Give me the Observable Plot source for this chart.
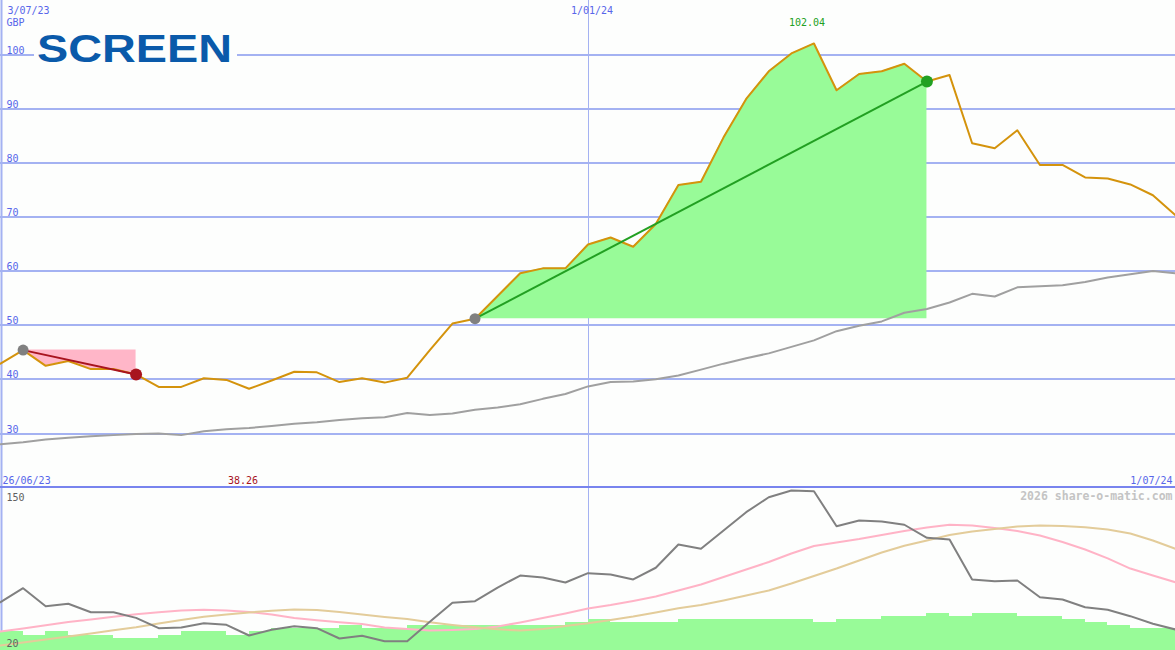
<!DOCTYPE html>
<html>
<head>
<meta charset="utf-8">
<script src="https://cdn.jsdelivr.net/npm/d3@7"></script>
<script src="https://cdn.jsdelivr.net/npm/@observablehq/plot@0.6"></script>
<style>
  html, body { margin: 0; padding: 0; background: #fdfefd; }
  #chart svg { display: block; }
  #bottom svg { border-top: 2px solid #7884ee; }
</style>
</head>
<body>
<div id="chart"><div id="top"></div><div id="bottom"></div></div>
<script>
// ---------- data (weekly, starting Monday 3 Jul 2023) ----------
const startDay = "2023-07-03";
const price = [42.9, 45.4, 42.5, 43.4, 41.9, 41.9, 40.9, 38.6, 38.6, 40.2,
  39.9, 38.26, 39.8, 41.4, 41.3, 39.5, 40.2, 39.4, 40.3, 45.4,
  50.3, 51.2, 55.4, 59.6, 60.5, 60.5, 64.9, 66.2, 64.5, 68.7,
  75.9, 76.5, 84.7, 91.8, 96.9, 100.2, 102.04, 93.4, 96.4, 96.9,
  98.3, 95.0, 96.2, 83.6, 82.7, 86.0, 79.6, 79.6, 77.3, 77.1,
  76.0, 74.0, 70.3];
const movingAvg = [28.0, 28.4, 28.9, 29.2, 29.5, 29.7, 29.9, 30.0, 29.7, 30.4,
  30.8, 31.0, 31.4, 31.8, 32.1, 32.5, 32.8, 33.0, 33.8, 33.4,
  33.7, 34.4, 34.8, 35.4, 36.4, 37.3, 38.7, 39.5, 39.6, 40.0,
  40.7, 41.8, 42.9, 43.9, 44.8, 46.0, 47.2, 48.9, 49.9, 50.7,
  52.3, 53.0, 54.2, 55.8, 55.3, 57.0, 57.2, 57.4, 58.0, 58.8,
  59.4, 60.0, 59.6];
const oscillator = [60.3, 72.8, 56.8, 58.9, 51.4, 51.4, 46.4, 37.2, 37.8, 41.6,
  40.2, 30.7, 35.8, 39.0, 37.2, 28.0, 30.4, 25.6, 25.6, 42.9,
  59.8, 61.2, 73.4, 84.1, 82.3, 77.9, 86.2, 85.0, 80.6, 91.0,
  111.7, 107.9, 124.2, 140.5, 153.8, 159.8, 159.2, 128.0, 133.1, 132.2,
  129.3, 117.7, 116.2, 80.6, 79.0, 79.7, 64.8, 62.7, 55.9, 53.6,
  47.9, 41.1, 36.0];
const oscPink = [34.2, 36.9, 39.8, 42.7, 44.9, 47.3, 49.6, 51.3, 52.9, 53.7,
  52.9, 51.6, 49.4, 46.3, 44.2, 42.4, 40.9, 37.8, 36.5, 35.1,
  35.6, 36.5, 38.7, 42.3, 46.3, 50.3, 54.7, 57.8, 61.4, 65.4,
  70.8, 76.1, 82.8, 89.5, 96.1, 103.7, 110.4, 113.5, 116.6, 120.2,
  123.7, 126.9, 129.3, 128.6, 126.4, 123.7, 119.7, 113.9, 107.3, 99.3,
  90.3, 84.1, 78.1];
const oscTan = [21.8, 24.5, 27.1, 29.8, 32.5, 35.3, 38.1, 41.4, 44.5, 47.3,
  49.4, 51.2, 52.7, 53.8, 53.4, 51.6, 49.4, 47.2, 45.4, 42.4,
  40.0, 38.0, 36.2, 35.1, 36.5, 39.1, 41.5, 44.5, 47.6, 51.2,
  54.9, 57.8, 61.9, 66.3, 70.8, 77.0, 83.7, 90.3, 97.5, 104.6,
  110.6, 115.3, 120.2, 123.3, 125.5, 127.7, 128.6, 128.2, 127.0, 125.1,
  121.5, 115.3, 107.9];
const volume = [34.2, 30.7, 34.2, 30.7, 30.7, 28.3, 28.3, 30.7, 34.2, 34.2,
  30.7, 34.2, 36.7, 36.7, 36.7, 39.6, 36.7, 36.7, 39.6, 39.6,
  39.6, 39.6, 39.6, 39.6, 39.6, 42.3, 44.9, 42.3, 42.3, 42.3,
  44.9, 44.9, 44.9, 44.9, 44.9, 44.9, 42.3, 44.9, 44.9, 47.6,
  47.6, 50.3, 47.6, 50.3, 50.3, 47.6, 47.6, 44.9, 42.3, 39.6,
  36.9, 36.9];

const topTicks = [30, 40, 50, 60, 70, 80, 90, 100];
const bottomTicks = [20, 150];
const lossRange = [1, 6];    // week indices of the losing trend
const gainRange = [21, 41];  // week indices of the winning trend
const yearMark = "2024-01-01";
const firstDateLabel = "3/07/23";
const yearDateLabel = "1/01/24";
const bottomStartLabel = "26/06/23";
const bottomEndLabel = "1/07/24";
const currency = "GBP";
const watermark = "2026 share-o-matic.com";
const logoText = "SCREEN";

// ---------- build ----------
const bg = "#fdfefd";
const grid = "#a4b2f2";
const labelBlue = "#5866ea";
const mono = "DejaVu Sans Mono, monospace";
const parse = d3.utcParse("%Y-%m-%d");
const d0 = parse(startDay);
const dates = price.map((_, i) => d3.utcDay.offset(d0, 7 * i));
const rows = dates.map((d, i) => ({date: d, price: price[i], ma: movingAvg[i],
  osc: oscillator[i], pink: oscPink[i], tan: oscTan[i]}));
const vols = volume.map((v, i) => ({x1: dates[i], x2: dates[i + 1], v}));
const xDomain = [dates[0], dates[dates.length - 1]];

const lossRows = rows.slice(lossRange[0], lossRange[1] + 1);
const gainRows = rows.slice(gainRange[0], gainRange[1] + 1);
const lossA = rows[lossRange[0]], lossB = rows[lossRange[1]];
const gainA = rows[gainRange[0]], gainB = rows[gainRange[1]];
const maxI = d3.maxIndex(price), minI = d3.minIndex(price);
const yearDate = parse(yearMark);
const txt = {fontFamily: mono, fontSize: 10, lineAnchor: "bottom"};

const topPlot = Plot.plot({
  width: 1175, height: 486, margin: 0,
  style: {background: bg, overflow: "hidden"},
  x: {type: "utc", domain: xDomain, range: [0, 1175], axis: null},
  y: {domain: [30, 100], range: [433, 54], axis: null},
  marks: [
    Plot.ruleY(topTicks, {stroke: grid, strokeWidth: 2, shapeRendering: "crispEdges"}),
    Plot.ruleX([yearDate], {stroke: grid, strokeWidth: 1, shapeRendering: "crispEdges"}),
    Plot.ruleX([dates[0]], {stroke: grid, strokeWidth: 2, dx: 1}),
    Plot.areaY(gainRows, {x: "date", y1: gainA.price, y2: "price", fill: "#98fb98"}),
    Plot.areaY(lossRows, {x: "date", y1: lossA.price, y2: "price", fill: "#ffb6c8"}),
    Plot.line(rows, {x: "date", y: "ma", stroke: "#a0a0a0", strokeWidth: 2}),
    Plot.line(rows, {x: "date", y: "price", stroke: "#d4930c", strokeWidth: 2}),
    Plot.link([{a: gainA, b: gainB}], {x1: d => d.a.date, y1: d => d.a.price, x2: d => d.b.date, y2: d => d.b.price, stroke: "#22a022", strokeWidth: 2}),
    Plot.link([{a: lossA, b: lossB}], {x1: d => d.a.date, y1: d => d.a.price, x2: d => d.b.date, y2: d => d.b.price, stroke: "#a8141e", strokeWidth: 2}),
    Plot.dot([gainA, lossA], {x: "date", y: "price", r: 5.5, fill: "#808080"}),
    Plot.dot([gainB], {x: "date", y: "price", r: 6, fill: "#22a022"}),
    Plot.dot([lossB], {x: "date", y: "price", r: 6, fill: "#a8141e"}),
    Plot.text(topTicks, {...txt, y: d => d, text: d => String(d), frameAnchor: "left", textAnchor: "start", dx: 6, dy: -1, fill: labelBlue}),
    Plot.text([currency], {...txt, text: d => d, frameAnchor: "top-left", textAnchor: "start", dx: 6, dy: 25, fill: labelBlue}),
    Plot.text([firstDateLabel], {...txt, x: () => dates[0], text: d => d, frameAnchor: "top", textAnchor: "start", dx: 7, dy: 13, fill: labelBlue}),
    Plot.text([yearDateLabel], {...txt, x: () => yearDate, text: d => d, frameAnchor: "top", textAnchor: "start", dx: -17, dy: 13, fill: labelBlue}),
    Plot.text([rows[maxI]], {...txt, x: "date", text: d => d.price.toFixed(2), frameAnchor: "top", textAnchor: "middle", dx: -7, dy: 25, fill: "#22a022"}),
    Plot.text([rows[minI]], {...txt, x: "date", text: d => d.price.toFixed(2), frameAnchor: "bottom", textAnchor: "middle", dx: -6, dy: -3, fill: "#a8141e"}),
    Plot.text([bottomStartLabel], {...txt, x: () => dates[0], text: d => d, frameAnchor: "bottom", textAnchor: "start", dx: 2, dy: -3, fill: labelBlue}),
    Plot.text([bottomEndLabel], {...txt, x: () => xDomain[1], text: d => d, frameAnchor: "bottom", textAnchor: "end", dx: -3, dy: -3, fill: labelBlue})
  ]
});

// logo
const svgTop = d3.select(topPlot);
svgTop.append("rect").attr("x", 34).attr("y", 44).attr("width", 203).attr("height", 20).attr("fill", bg);
svgTop.append("text").attr("x", 37).attr("y", 62)
  .attr("text-anchor", "start")
  .attr("font-family", "Liberation Sans, Arial, sans-serif").attr("font-weight", "bold")
  .attr("font-size", 38).attr("textLength", 195).attr("lengthAdjust", "spacingAndGlyphs")
  .attr("fill", "#0a5aaa").text(logoText);

const bottomPlot = Plot.plot({
  width: 1175, height: 162, margin: 0,
  style: {background: bg, overflow: "hidden"},
  x: {type: "utc", domain: xDomain, range: [0, 1175], axis: null},
  y: {domain: [20, 150], range: [159, 13], axis: null},
  marks: [
    Plot.ruleX([yearDate], {stroke: grid, strokeWidth: 1, shapeRendering: "crispEdges"}),
    Plot.ruleX([dates[0]], {stroke: grid, strokeWidth: 2, dx: 1}),
    Plot.rect(vols, {x1: "x1", x2: "x2", y1: 10, y2: "v", fill: "#98fb98", shapeRendering: "crispEdges"}),
    Plot.line(rows, {x: "date", y: "pink", stroke: "#ffb3c6", strokeWidth: 2}),
    Plot.line(rows, {x: "date", y: "tan", stroke: "#e3cc9a", strokeWidth: 2}),
    Plot.line(rows, {x: "date", y: "osc", stroke: "#808080", strokeWidth: 2}),
    Plot.text(bottomTicks, {...txt, y: d => d, text: d => String(d), frameAnchor: "left", textAnchor: "start", dx: 6, dy: -1, fill: "#606060"}),
    Plot.text([watermark], {...txt, text: d => d, frameAnchor: "top-right", textAnchor: "end", dx: -3, dy: 11, fill: "#c4c4c4", fontWeight: "bold", fontSize: 11.5})
  ]
});

document.getElementById("top").appendChild(topPlot);
document.getElementById("bottom").appendChild(bottomPlot);
</script>
</body>
</html>
